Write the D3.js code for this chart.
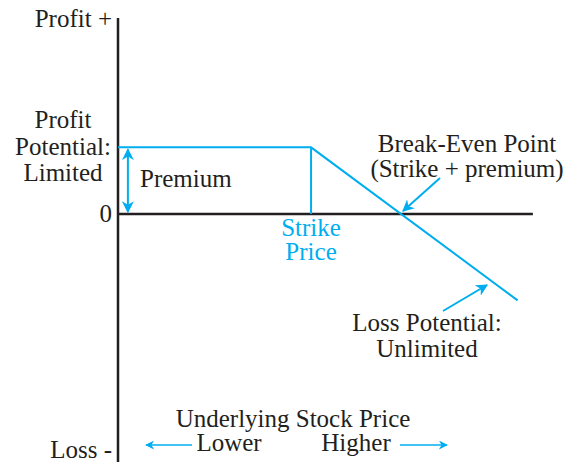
<!DOCTYPE html>
<html>
<head>
<meta charset="utf-8">
<script src="https://cdn.jsdelivr.net/npm/d3@7"></script>
<style>
  html, body { margin: 0; padding: 0; background: #fff; }
  svg text { font-family: "Liberation Serif", "Times New Roman", serif; font-size: 25px; fill: #231f20; }
</style>
</head>
<body>
<svg id="chart" width="571" height="463"></svg>
<script>
// Short call payoff: profit vs underlying stock price (arbitrary units)
const premium = 10;
const strike = 21.45;
const priceEnd = 44.4;
const pricePoints = [0, strike, priceEnd];
const profitPoints = [premium, premium, premium - (priceEnd - strike)];
const breakEven = strike + premium;

const yAxisLabels = ["Profit +", "0", "Loss -"];
const profitPotentialLines = ["Profit", "Potential:", "Limited"];
const strikeLines = ["Strike", "Price"];
const breakEvenLines = ["Break-Even Point", "(Strike + premium)"];
const lossLines = ["Loss Potential:", "Unlimited"];
const xTitle = "Underlying Stock Price";
const directionLabels = ["Lower", "Higher"];

const BLUE = "#00aeef";
const INK = "#231f20";

const svg = d3.select("#chart");

const x = d3.scaleLinear().domain([0, 46]).range([118, 532]);
const y = d3.scaleLinear().domain([-37.2, 29.4]).range([462, 18]);

const defs = svg.append("defs");
defs.append("marker")
  .attr("id", "arrow")
  .attr("viewBox", "0 0 10 10")
  .attr("refX", 9).attr("refY", 5)
  .attr("markerWidth", 6).attr("markerHeight", 6)
  .attr("markerUnits", "strokeWidth")
  .attr("orient", "auto-start-reverse")
  .append("path")
  .attr("d", "M0,0 L10,5 L0,10 L3,5 Z")
  .attr("fill", BLUE);

// Axes: vertical profit axis and zero line
svg.append("line")
  .attr("x1", x(0)).attr("x2", x(0))
  .attr("y1", y(29.4)).attr("y2", y(-37.2))
  .attr("stroke", INK).attr("stroke-width", 2.5);
svg.append("line")
  .attr("x1", x(0)).attr("x2", x(46.1))
  .attr("y1", y(0)).attr("y2", y(0))
  .attr("stroke", INK).attr("stroke-width", 2.5);

// Payoff line
const line = d3.line().x(d => x(d[0])).y(d => y(d[1]));
svg.append("path")
  .datum(pricePoints.map((p, i) => [p, profitPoints[i]]))
  .attr("d", line)
  .attr("fill", "none")
  .attr("stroke", BLUE).attr("stroke-width", 2);

// Strike marker
svg.append("line")
  .attr("x1", x(strike)).attr("x2", x(strike))
  .attr("y1", y(premium)).attr("y2", y(0))
  .attr("stroke", BLUE).attr("stroke-width", 2);

// Premium double arrow
svg.append("line")
  .attr("x1", x(1.1)).attr("x2", x(1.1))
  .attr("y1", y(premium) + 2).attr("y2", y(0) - 2)
  .attr("stroke", BLUE).attr("stroke-width", 2)
  .attr("marker-start", "url(#arrow)")
  .attr("marker-end", "url(#arrow)");

// Y-axis labels
const yLab = svg.append("g").attr("text-anchor", "end");
yLab.append("text").attr("x", 112).attr("y", 27).text(yAxisLabels[0]);
yLab.append("text").attr("x", 112).attr("y", y(0) + 8).text(yAxisLabels[1]);
yLab.append("text").attr("x", 112).attr("y", 458).text(yAxisLabels[2]);

const pp = svg.append("g").attr("text-anchor", "middle");
profitPotentialLines.forEach((t, i) => {
  pp.append("text").attr("x", 63).attr("y", 128 + i * 26.5).text(t);
});

svg.append("text").attr("x", 140).attr("y", 187).text("Premium");

const sp = svg.append("g").attr("text-anchor", "middle");
strikeLines.forEach((t, i) => {
  sp.append("text").attr("x", x(strike)).attr("y", 236 + i * 24)
    .style("fill", BLUE).text(t);
});

const be = svg.append("g").attr("text-anchor", "middle");
breakEvenLines.forEach((t, i) => {
  be.append("text").attr("x", 467).attr("y", 152 + i * 25).text(t);
});
svg.append("line")
  .attr("x1", 440).attr("y1", 178)
  .attr("x2", x(breakEven) + 2).attr("y2", y(0) - 3)
  .attr("stroke", BLUE).attr("stroke-width", 2)
  .attr("marker-end", "url(#arrow)");

const lp = svg.append("g").attr("text-anchor", "middle");
lossLines.forEach((t, i) => {
  lp.append("text").attr("x", 427).attr("y", 331 + i * 26).text(t);
});
svg.append("line")
  .attr("x1", 443).attr("y1", 311)
  .attr("x2", 487).attr("y2", 285)
  .attr("stroke", BLUE).attr("stroke-width", 2)
  .attr("marker-end", "url(#arrow)");

// X-axis title and direction hints
svg.append("text").attr("x", 293).attr("y", 427)
  .attr("text-anchor", "middle").text(xTitle);
svg.append("text").attr("x", 229).attr("y", 451)
  .attr("text-anchor", "middle").text(directionLabels[0]);
svg.append("text").attr("x", 356).attr("y", 451)
  .attr("text-anchor", "middle").text(directionLabels[1]);
svg.append("line")
  .attr("x1", 192).attr("y1", 445).attr("x2", 146).attr("y2", 445)
  .attr("stroke", BLUE).attr("stroke-width", 1.5)
  .attr("marker-end", "url(#arrow)");
svg.append("line")
  .attr("x1", 400).attr("y1", 445).attr("x2", 447).attr("y2", 445)
  .attr("stroke", BLUE).attr("stroke-width", 1.5)
  .attr("marker-end", "url(#arrow)");
</script>
</body>
</html>
